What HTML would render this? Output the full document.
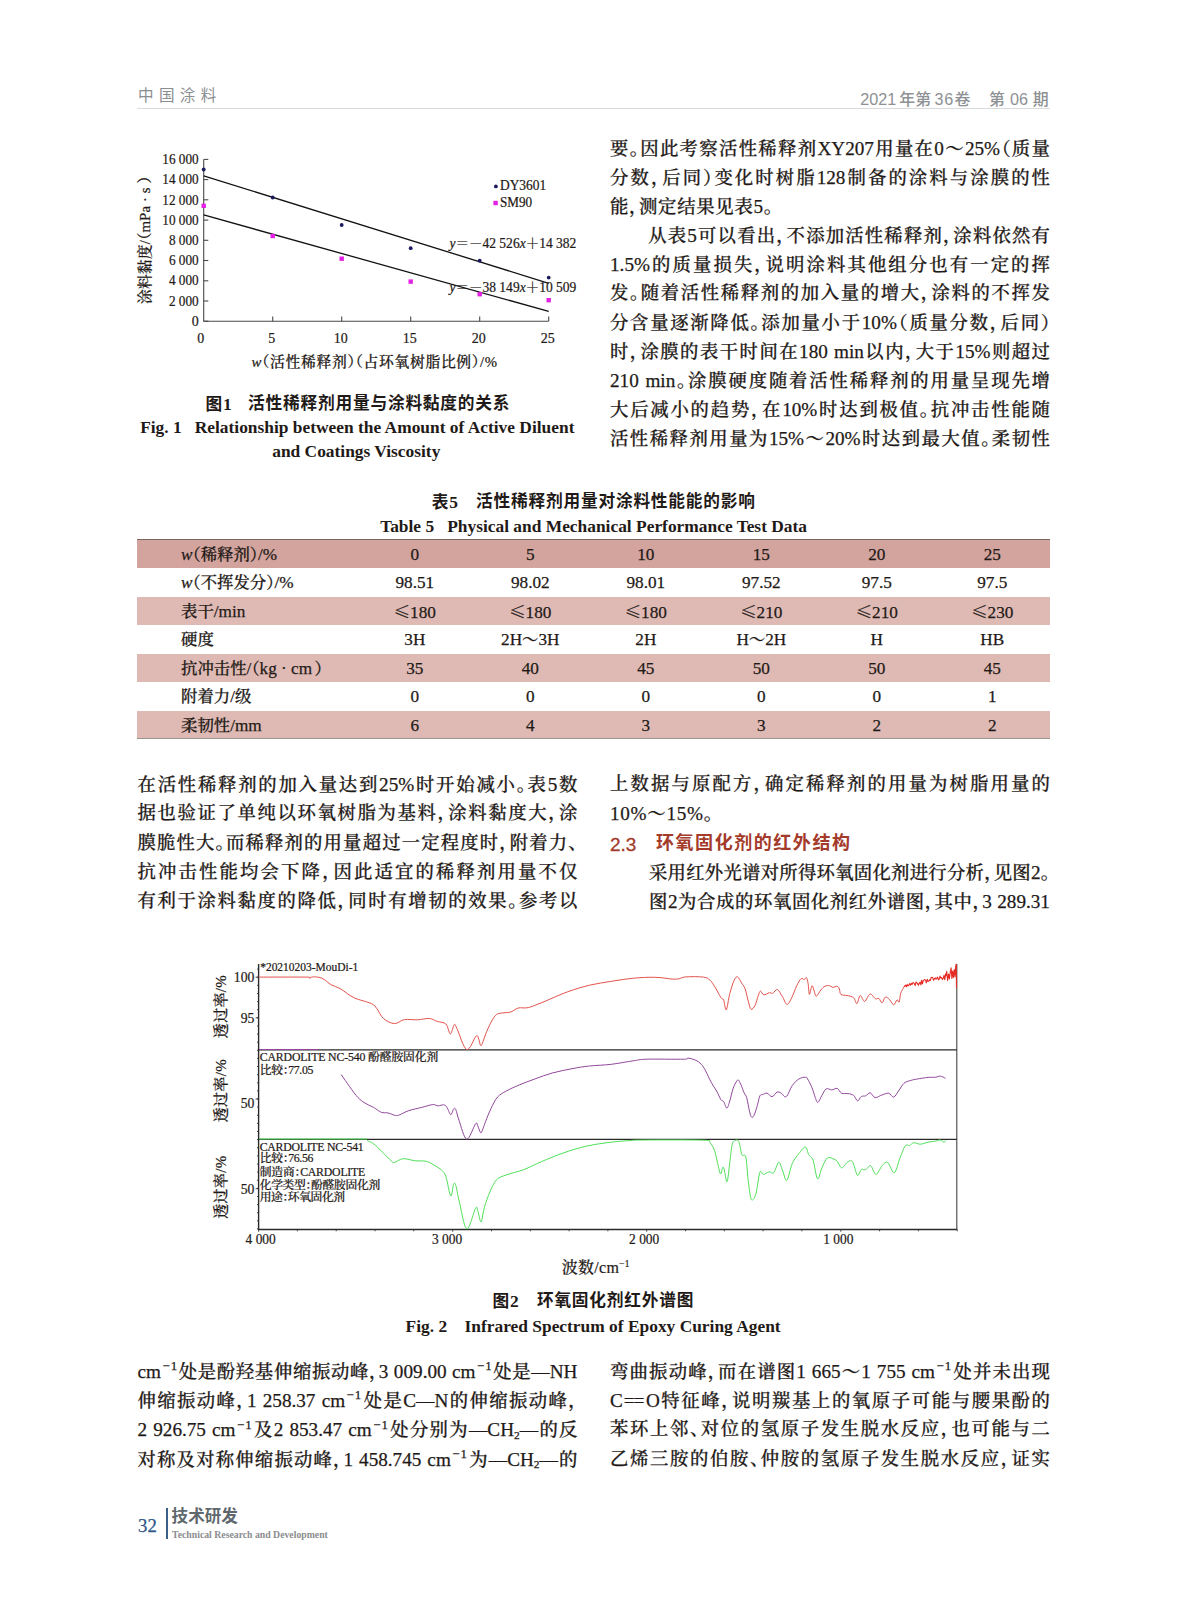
<!DOCTYPE html>
<html lang="zh-CN"><head><meta charset="utf-8"><title>中国涂料 2021年第36卷 第06期</title>
<style>
html,body{margin:0;padding:0;background:#fff;}
body{width:1187px;height:1600px;position:relative;overflow:hidden;font-family:"Liberation Serif","Noto Serif CJK SC",serif;color:#1f1a17;font-weight:500;-webkit-text-stroke-width:0.25px;}
.ln{position:absolute;white-space:nowrap;font-size:18.4px;line-height:29px;height:29px;text-align:justify;text-align-last:justify;text-justify:inter-character;}
.ln.nj{text-align:left;text-align-last:left;letter-spacing:0.7px;}
.p{font-feature-settings:"halt";}
.c{position:absolute;white-space:nowrap;text-align:center;}
sup{font-size:70%;vertical-align:baseline;position:relative;top:-0.6em;line-height:0;letter-spacing:1px;padding-left:1.5px;}
.l{font-size:19.2px;}
sub{font-size:62%;vertical-align:baseline;position:relative;top:0.25em;line-height:0;}
.tr{position:absolute;white-space:nowrap;font-size:16.4px;line-height:27.8px;height:27.8px;}
.tl{font-size:17.2px;}
.tr .p:first-of-type{padding-right:2.5px;}
.tr .p:last-of-type{padding-left:2.5px;}
.le{font-family:"Noto Serif CJK SC",serif;}
.sans{font-family:"Liberation Sans","Noto Sans CJK SC",sans-serif;}
.b{font-weight:bold;-webkit-text-stroke-width:0;}
.sans{-webkit-text-stroke-width:0;}
svg text{stroke:#1f1a17;stroke-width:0.22px;}
</style></head>
<body>
<svg width="1187" height="1600" viewBox="0 0 1187 1600" style="position:absolute;left:0;top:0;" font-family="'Liberation Serif','Noto Serif CJK SC',serif" fill="#1f1a17">
<g stroke="#4a4a4a" stroke-width="1.1" fill="none">
<path d="M203.7 159.4 V321.2 H548.7"/>
<path d="M203.7 321.2 h4.6"/>
<path d="M203.7 301.0 h4.6"/>
<path d="M203.7 280.8 h4.6"/>
<path d="M203.7 260.5 h4.6"/>
<path d="M203.7 240.3 h4.6"/>
<path d="M203.7 220.1 h4.6"/>
<path d="M203.7 199.8 h4.6"/>
<path d="M203.7 179.6 h4.6"/>
<path d="M203.7 159.4 h4.6"/>
<path d="M272.7 321.2 v-4.6"/>
<path d="M341.7 321.2 v-4.6"/>
<path d="M410.7 321.2 v-4.6"/>
<path d="M479.7 321.2 v-4.6"/>
<path d="M548.7 321.2 v-4.6"/>
</g>
<text x="198.7" y="325.9" font-size="14" text-anchor="end" >0</text>
<text x="198.7" y="305.7" font-size="14" text-anchor="end" textLength="29.8" lengthAdjust="spacingAndGlyphs">2 000</text>
<text x="198.7" y="285.4" font-size="14" text-anchor="end" textLength="29.8" lengthAdjust="spacingAndGlyphs">4 000</text>
<text x="198.7" y="265.2" font-size="14" text-anchor="end" textLength="29.8" lengthAdjust="spacingAndGlyphs">6 000</text>
<text x="198.7" y="245.0" font-size="14" text-anchor="end" textLength="29.8" lengthAdjust="spacingAndGlyphs">8 000</text>
<text x="198.7" y="224.8" font-size="14" text-anchor="end" textLength="36.4" lengthAdjust="spacingAndGlyphs">10 000</text>
<text x="198.7" y="204.5" font-size="14" text-anchor="end" textLength="36.4" lengthAdjust="spacingAndGlyphs">12 000</text>
<text x="198.7" y="184.3" font-size="14" text-anchor="end" textLength="36.4" lengthAdjust="spacingAndGlyphs">14 000</text>
<text x="198.7" y="164.1" font-size="14" text-anchor="end" textLength="36.4" lengthAdjust="spacingAndGlyphs">16 000</text>
<text x="200.7" y="343.3" font-size="14" text-anchor="middle">0</text>
<text x="271.7" y="343.3" font-size="14" text-anchor="middle">5</text>
<text x="340.7" y="343.3" font-size="14" text-anchor="middle">10</text>
<text x="409.7" y="343.3" font-size="14" text-anchor="middle">15</text>
<text x="478.7" y="343.3" font-size="14" text-anchor="middle">20</text>
<text x="547.7" y="343.3" font-size="14" text-anchor="middle">25</text>
<path d="M203.7 175.8 L548.7 283.3" stroke="#111" stroke-width="1.3"/>
<path d="M203.7 214.9 L548.7 311.4" stroke="#111" stroke-width="1.3"/>
<circle cx="203.7" cy="169.5" r="1.9" fill="#1c1a5e"/>
<circle cx="272.7" cy="197.5" r="1.9" fill="#1c1a5e"/>
<circle cx="341.7" cy="225.0" r="1.9" fill="#1c1a5e"/>
<circle cx="410.7" cy="248.2" r="1.9" fill="#1c1a5e"/>
<circle cx="479.7" cy="260.7" r="1.9" fill="#1c1a5e"/>
<circle cx="548.7" cy="277.6" r="1.9" fill="#1c1a5e"/>
<rect x="201.5" y="203.6" width="4.4" height="4.4" fill="#e320e3"/>
<rect x="270.5" y="233.8" width="4.4" height="4.4" fill="#e320e3"/>
<rect x="339.5" y="256.5" width="4.4" height="4.4" fill="#e320e3"/>
<rect x="408.5" y="279.4" width="4.4" height="4.4" fill="#e320e3"/>
<rect x="477.5" y="292.0" width="4.4" height="4.4" fill="#e320e3"/>
<rect x="546.5" y="298.0" width="4.4" height="4.4" fill="#e320e3"/>
<circle cx="495.9" cy="186.4" r="1.9" fill="#1c1a5e"/>
<rect x="493.4" y="200.8" width="4.4" height="4.4" fill="#e320e3"/>
<text x="500" y="189.8" font-size="13.6" textLength="46.2" lengthAdjust="spacingAndGlyphs">DY3601</text>
<text x="500" y="206.6" font-size="13.6" textLength="32.2" lengthAdjust="spacingAndGlyphs">SM90</text>
<text x="449.4" y="248.2" font-size="13.6" textLength="127" lengthAdjust="spacingAndGlyphs" xml:space="preserve"><tspan font-style="italic">y</tspan>＝－42 526<tspan font-style="italic">x</tspan>＋14 382</text>
<text x="449.4" y="291.5" font-size="13.6" textLength="127" lengthAdjust="spacingAndGlyphs" xml:space="preserve"><tspan font-style="italic">y</tspan>＝－38 149<tspan font-style="italic">x</tspan>＋10 509</text>
<text transform="translate(149.7,304) rotate(-90)" font-size="14.8" textLength="128" lengthAdjust="spacing" xml:space="preserve">涂料黏度/<tspan style="font-feature-settings:'halt'">（</tspan>mPa · s <tspan style="font-feature-settings:'halt'">）</tspan></text>
<text x="251.5" y="367" font-size="14.8" textLength="245.5" lengthAdjust="spacing"><tspan font-style="italic">w</tspan><tspan style="font-feature-settings:'halt'">（</tspan>活性稀释剂<tspan style="font-feature-settings:'halt'">）</tspan><tspan style="font-feature-settings:'halt'">（</tspan>占环氧树脂比例<tspan style="font-feature-settings:'halt'">）</tspan>/%</text>
<g stroke="#2a2a2a" stroke-width="1.4" fill="none">
<path d="M258.6 964.0 V1229.5 H957.3"/>
<path d="M956.8 1229.5 V964.0" stroke="#444" stroke-width="1.1"/>
<path d="M258.6 1049.9 H956.8 M258.6 1139.4 H956.8"/>
</g>
<g stroke="#333" stroke-width="0.9" fill="none">
<path d="M258.6 1229.5 v2.2"/>
<path d="M297.4 1229.5 v1.8"/>
<path d="M336.2 1229.5 v1.8"/>
<path d="M375.0 1229.5 v1.8"/>
<path d="M413.8 1229.5 v1.8"/>
<path d="M452.7 1229.5 v2.2"/>
<path d="M491.5 1229.5 v1.8"/>
<path d="M530.3 1229.5 v1.8"/>
<path d="M569.1 1229.5 v1.8"/>
<path d="M607.9 1229.5 v1.8"/>
<path d="M646.7 1229.5 v2.2"/>
<path d="M685.5 1229.5 v1.8"/>
<path d="M724.3 1229.5 v1.8"/>
<path d="M763.1 1229.5 v1.8"/>
<path d="M801.9 1229.5 v1.8"/>
<path d="M840.8 1229.5 v2.2"/>
<path d="M879.6 1229.5 v1.8"/>
<path d="M918.4 1229.5 v1.8"/>
<path d="M957.2 1229.5 v1.8"/>
<path d="M258.6 977.2 h-3"/>
<path d="M258.6 1017.8 h-3"/>
<path d="M258.6 1099.0 h-3"/>
<path d="M258.6 1188.7 h-3"/>
<path d="M258.6 969.1 h-1.6"/>
<path d="M258.6 977.2 h-1.6"/>
<path d="M258.6 985.3 h-1.6"/>
<path d="M258.6 993.5 h-1.6"/>
<path d="M258.6 1001.6 h-1.6"/>
<path d="M258.6 1009.7 h-1.6"/>
<path d="M258.6 1017.8 h-1.6"/>
<path d="M258.6 1025.9 h-1.6"/>
<path d="M258.6 1034.1 h-1.6"/>
<path d="M258.6 1042.2 h-1.6"/>
<path d="M258.6 1050.3 h-1.6"/>
<path d="M258.6 1058.4 h-1.6"/>
<path d="M258.6 1066.5 h-1.6"/>
<path d="M258.6 1074.7 h-1.6"/>
<path d="M258.6 1082.8 h-1.6"/>
<path d="M258.6 1090.9 h-1.6"/>
<path d="M258.6 1099.0 h-1.6"/>
<path d="M258.6 1107.1 h-1.6"/>
<path d="M258.6 1115.3 h-1.6"/>
<path d="M258.6 1123.4 h-1.6"/>
<path d="M258.6 1131.5 h-1.6"/>
<path d="M258.6 1139.6 h-1.6"/>
<path d="M258.6 1147.7 h-1.6"/>
<path d="M258.6 1155.9 h-1.6"/>
<path d="M258.6 1164.0 h-1.6"/>
<path d="M258.6 1172.1 h-1.6"/>
<path d="M258.6 1180.2 h-1.6"/>
<path d="M258.6 1188.3 h-1.6"/>
<path d="M258.6 1196.5 h-1.6"/>
<path d="M258.6 1204.6 h-1.6"/>
<path d="M258.6 1212.7 h-1.6"/>
<path d="M258.6 1220.8 h-1.6"/>
<path d="M258.6 1228.9 h-1.6"/>
</g>
<path d="M259.3 977.1 C267.0 977.1 297.3 977.0 305.7 977.1 C314.1 977.2 308.6 978.0 309.7 978.0 C310.8 978.0 310.8 977.0 312.3 976.9 C313.8 976.8 316.9 976.9 318.9 977.3 C320.9 977.7 322.3 978.3 324.3 979.5 C326.3 980.7 328.1 983.0 330.9 984.6 C333.6 986.2 337.0 986.8 340.8 989.0 C344.6 991.2 348.8 995.3 353.9 997.7 C359.0 1000.1 367.6 1001.8 371.4 1003.6 C375.2 1005.4 374.9 1006.2 376.9 1008.7 C378.9 1011.2 380.6 1016.0 383.5 1018.5 C386.4 1021.0 390.9 1023.4 394.4 1023.6 C397.9 1023.8 400.5 1020.2 404.3 1019.6 C408.1 1019.0 413.2 1020.0 417.4 1019.8 C421.6 1019.6 426.2 1018.2 429.5 1018.5 C432.8 1018.8 434.5 1020.5 437.2 1021.4 C439.9 1022.3 443.7 1021.9 445.9 1024.0 C448.1 1026.1 448.9 1033.8 450.3 1033.9 C451.7 1034.0 453.1 1025.6 454.2 1024.7 C455.3 1023.8 454.8 1024.2 456.9 1028.4 C459.0 1032.6 463.5 1048.3 466.7 1049.6 C469.9 1050.9 474.1 1037.8 476.1 1036.1 C478.1 1034.4 478.1 1037.8 478.8 1039.3 C479.5 1040.8 479.9 1044.6 480.5 1045.3 C481.1 1046.0 481.2 1046.0 482.2 1043.7 C483.2 1041.4 485.0 1035.5 486.6 1031.7 C488.2 1027.9 490.3 1023.6 491.9 1020.7 C493.5 1017.9 494.7 1015.9 496.4 1014.6 C498.1 1013.3 499.5 1013.4 501.9 1013.0 C504.3 1012.6 508.0 1012.8 510.7 1012.0 C513.4 1011.2 515.4 1008.7 518.3 1008.0 C521.2 1007.3 524.4 1008.5 528.2 1007.6 C532.0 1006.7 534.7 1005.4 541.3 1002.8 C547.9 1000.2 559.6 994.7 567.6 991.8 C575.6 988.9 582.2 987.0 589.5 985.2 C596.8 983.5 604.1 982.5 611.4 981.3 C618.7 980.1 626.0 978.9 633.3 978.2 C640.6 977.5 648.6 977.1 655.2 977.3 C661.8 977.4 668.8 978.9 672.8 979.1 C676.8 979.3 677.1 979.1 679.3 978.7 C681.5 978.3 681.9 977.2 685.9 976.9 C689.9 976.6 699.4 976.5 703.4 977.1 C707.4 977.7 708.0 978.4 710.0 980.2 C712.0 982.0 713.7 985.0 715.5 987.9 C717.3 990.8 719.6 995.7 721.0 997.7 C722.4 999.7 722.7 997.9 723.6 999.9 C724.5 1001.9 725.3 1010.9 726.3 1009.8 C727.3 1008.7 728.5 998.3 729.8 993.4 C731.1 988.5 732.9 983.0 734.2 980.2 C735.5 977.5 736.2 976.4 737.5 976.9 C738.8 977.4 740.6 981.5 741.9 983.5 C743.2 985.5 744.1 985.9 745.2 989.0 C746.3 992.1 747.5 998.7 748.5 1002.1 C749.5 1005.5 750.0 1008.8 751.1 1009.3 C752.2 1009.8 753.8 1007.7 755.0 1005.4 C756.2 1003.1 757.4 997.9 758.3 995.5 C759.2 993.1 759.6 991.2 760.5 991.1 C761.4 991.0 762.3 994.6 763.8 994.9 C765.3 995.2 767.8 993.0 769.3 992.7 C770.8 992.4 771.2 993.8 772.6 993.3 C774.0 992.8 775.8 989.0 777.4 989.6 C779.0 990.2 780.8 994.2 782.4 996.6 C784.0 999.0 785.3 1003.9 786.8 1004.3 C788.3 1004.7 789.6 1001.9 791.2 998.8 C792.9 995.7 795.1 989.1 796.7 985.7 C798.4 982.4 799.8 979.7 801.1 978.7 C802.4 977.7 803.4 979.7 804.3 979.5 C805.2 979.3 805.9 976.9 806.5 977.6 C807.1 978.3 807.6 980.7 808.1 983.5 C808.6 986.3 808.8 994.0 809.4 994.4 C810.0 994.8 811.2 986.2 812.0 985.7 C812.8 985.2 813.5 989.4 814.2 991.1 C814.9 992.9 815.3 996.4 816.4 996.2 C817.5 996.0 819.3 991.7 820.8 990.0 C822.2 988.3 823.6 986.8 825.1 986.1 C826.6 985.4 828.2 985.5 829.5 985.7 C830.8 985.9 831.5 987.3 832.8 987.4 C834.1 987.5 836.1 986.0 837.2 986.3 C838.3 986.6 838.8 987.6 839.4 989.0 C840.0 990.4 839.6 993.3 840.9 994.4 C842.2 995.5 845.0 995.0 847.1 995.5 C849.2 996.0 852.0 996.4 853.6 997.7 C855.2 999.1 855.8 1004.0 856.9 1003.6 C858.0 1003.2 858.9 995.9 860.2 995.5 C861.5 995.1 863.0 1001.6 864.6 1001.4 C866.2 1001.1 868.3 994.4 870.1 994.0 C871.9 993.6 874.0 998.1 875.5 998.8 C877.0 999.5 877.7 997.7 878.8 998.4 C879.9 999.1 881.0 1003.0 882.1 1002.8 C883.2 1002.6 884.1 997.6 885.4 997.1 C886.7 996.6 888.4 998.6 889.8 999.9 C891.2 1001.2 892.5 1004.9 893.7 1004.9 C894.9 1004.9 896.1 1000.4 897.0 999.9 C897.9 999.4 898.6 1003.2 899.2 1002.1 C899.8 1001.0 899.9 995.8 900.7 993.3 C901.5 990.8 903.5 987.9 904.0 986.8" stroke="#e2524c" stroke-width="1.0" fill="none" stroke-linejoin="round"/>
<path d="M904.0 986.8 L904.8 986.0 L905.6 985.2 L906.4 986.7 L907.2 984.4 L908.0 985.9 L908.8 985.1 L909.6 983.7 L910.4 985.2 L911.2 983.2 L912.0 984.5 L912.8 982.8 L913.6 982.7 L914.4 983.9 L915.2 985.4 L916.0 982.1 L916.8 982.4 L917.6 983.9 L918.4 985.2 L919.2 983.3 L920.0 982.3 L920.8 984.8 L921.6 980.2 L922.4 983.9 L923.2 980.9 L924.0 980.0 L924.8 979.6 L925.6 980.4 L926.4 982.8 L927.2 979.3 L928.0 981.2 L928.8 981.3 L929.6 979.7 L930.4 980.4 L931.2 977.5 L932.0 977.3 L932.8 977.9 L933.6 980.3 L934.4 978.7 L935.2 977.9 L936.0 979.2 L936.8 978.2 L937.6 977.1 L938.4 979.9 L939.2 979.1 L940.0 976.1 L940.8 978.0 L941.6 977.5 L942.4 979.5 L943.2 978.4 L944.0 975.3 L944.8 979.6 L945.6 973.8 L946.4 975.6 L946.7 971.4 L947.6 980.5 L948.6 974.0 L949.4 979.0 L950.3 972.0 L951.1 967.8 L951.9 978.5 L952.7 971.0 L953.4 977.5 L954.2 969.5 L955.0 977.0 L955.7 966.0 L956.2 964.2 L956.5 988.0" stroke="#e62a24" stroke-width="1.1" fill="none" stroke-linejoin="round"/>
<path d="M341.2 1074.6 C342.2 1076.0 344.8 1079.8 347.3 1083.3 C349.8 1086.8 353.4 1092.2 356.1 1095.4 C358.9 1098.6 360.9 1100.4 363.8 1102.4 C366.7 1104.4 370.7 1105.8 373.6 1107.4 C376.5 1109.1 378.9 1111.4 381.3 1112.3 C383.7 1113.2 385.5 1112.4 387.9 1112.9 C390.3 1113.4 393.5 1115.2 395.5 1115.5 C397.5 1115.8 397.7 1115.5 399.9 1114.7 C402.1 1113.9 405.0 1111.9 408.7 1110.7 C412.4 1109.5 417.8 1108.4 421.8 1107.4 C425.8 1106.4 430.1 1104.8 432.8 1104.6 C435.5 1104.3 436.4 1105.9 438.2 1105.9 C440.0 1105.9 442.2 1104.5 443.7 1104.8 C445.2 1105.0 445.8 1105.8 447.0 1107.4 C448.2 1109.1 449.6 1114.4 450.7 1114.7 C451.8 1115.0 452.8 1109.8 453.6 1109.0 C454.5 1108.2 454.9 1107.7 455.8 1109.6 C456.7 1111.5 457.3 1115.7 459.1 1120.6 C460.9 1125.5 464.0 1138.7 466.7 1139.2 C469.4 1139.8 473.7 1126.2 475.5 1123.9 C477.3 1121.6 476.9 1124.1 477.7 1125.6 C478.5 1127.0 479.7 1131.8 480.5 1132.6 C481.3 1133.4 481.6 1132.0 482.4 1130.2 C483.2 1128.4 484.1 1125.3 485.5 1121.7 C486.9 1118.1 489.0 1112.6 491.0 1108.5 C493.0 1104.4 494.9 1100.0 497.5 1097.1 C500.1 1094.2 502.7 1093.0 506.3 1091.0 C509.9 1089.0 514.6 1086.9 519.4 1084.9 C524.1 1082.9 529.3 1081.0 534.8 1079.0 C540.3 1077.0 546.1 1074.7 552.3 1073.0 C558.5 1071.3 565.8 1069.9 572.0 1068.7 C578.2 1067.5 582.9 1066.7 589.5 1066.0 C596.1 1065.3 604.1 1065.2 611.4 1064.3 C618.7 1063.4 627.4 1061.6 633.3 1060.8 C639.1 1060.0 638.1 1059.5 646.5 1059.2 C654.9 1058.9 676.8 1059.4 683.7 1059.2 C690.6 1059.0 686.1 1057.9 688.1 1058.1 C690.1 1058.3 693.6 1059.3 695.8 1060.3 C698.0 1061.3 699.7 1062.5 701.3 1064.3 C702.9 1066.0 704.0 1067.8 705.6 1070.8 C707.2 1073.8 709.3 1078.8 711.1 1082.2 C712.9 1085.6 715.0 1088.1 716.6 1091.0 C718.2 1093.9 719.8 1098.0 721.0 1099.8 C722.2 1101.5 722.6 1100.1 723.6 1101.5 C724.6 1102.9 725.9 1108.2 726.9 1108.1 C727.9 1108.0 728.8 1104.1 729.8 1100.9 C730.8 1097.7 731.9 1092.0 733.0 1088.8 C734.1 1085.6 735.4 1083.3 736.3 1081.8 C737.2 1080.3 737.5 1079.6 738.3 1080.0 C739.0 1080.4 739.8 1082.3 740.8 1084.4 C741.8 1086.5 743.1 1090.6 744.1 1092.8 C745.1 1095.0 745.8 1094.4 746.7 1097.6 C747.6 1100.8 748.8 1108.5 749.6 1111.8 C750.5 1115.1 751.0 1116.9 751.8 1117.3 C752.6 1117.7 753.6 1116.2 754.6 1114.0 C755.6 1111.8 756.8 1107.1 757.7 1104.1 C758.6 1101.1 759.0 1097.4 759.9 1095.8 C760.8 1094.2 762.2 1094.7 763.4 1094.3 C764.6 1093.9 765.6 1092.8 767.1 1093.2 C768.6 1093.6 770.5 1096.9 772.1 1096.7 C773.8 1096.5 775.5 1092.7 777.0 1092.1 C778.5 1091.5 779.8 1092.4 781.3 1093.2 C782.8 1094.0 784.4 1098.0 786.2 1096.7 C788.0 1095.4 790.2 1088.5 792.3 1085.5 C794.4 1082.5 796.7 1080.4 798.9 1079.0 C801.1 1077.6 803.9 1077.2 805.4 1077.2 C806.9 1077.2 806.5 1077.2 807.6 1079.0 C808.7 1080.8 810.7 1084.6 812.0 1087.7 C813.3 1090.8 814.3 1095.1 815.3 1097.6 C816.3 1100.0 816.8 1102.8 817.9 1102.4 C819.0 1102.0 820.5 1097.7 821.9 1095.4 C823.3 1093.1 824.6 1089.7 826.2 1088.8 C827.8 1087.9 829.9 1090.0 831.7 1089.9 C833.5 1089.8 835.6 1087.9 837.2 1088.4 C838.9 1089.0 839.8 1092.3 841.6 1093.2 C843.4 1094.1 846.1 1093.2 848.1 1093.6 C850.1 1094.0 852.0 1094.2 853.6 1095.4 C855.2 1096.6 856.3 1100.7 857.6 1100.9 C858.9 1101.1 859.9 1097.3 861.3 1096.5 C862.6 1095.7 864.2 1096.4 865.7 1095.8 C867.2 1095.2 868.5 1092.5 870.1 1092.8 C871.7 1093.1 873.1 1097.2 875.1 1097.6 C877.1 1097.9 879.8 1095.6 882.1 1094.9 C884.4 1094.2 886.8 1092.8 888.7 1093.2 C890.6 1093.6 892.1 1097.5 893.7 1097.1 C895.3 1096.7 896.8 1093.3 898.5 1091.0 C900.2 1088.7 902.0 1085.0 904.0 1083.3 C906.0 1081.5 908.4 1081.2 910.6 1080.5 C912.8 1079.8 914.3 1079.5 917.2 1079.0 C920.1 1078.5 925.0 1077.7 928.1 1077.4 C931.2 1077.1 933.8 1077.4 935.8 1077.2 C937.8 1077.0 938.6 1075.9 940.2 1076.1 C941.8 1076.3 944.7 1077.9 945.6 1078.3" stroke="#91479b" stroke-width="1.0" fill="none" stroke-linejoin="round"/>
<path d="M367.1 1140.6 C368.2 1141.1 371.1 1141.9 373.6 1143.8 C376.2 1145.7 379.5 1149.3 382.4 1152.1 C385.3 1154.9 389.2 1159.1 391.2 1160.8 C393.2 1162.5 392.4 1162.8 394.4 1162.4 C396.4 1162.1 399.7 1159.0 403.2 1158.7 C406.7 1158.4 411.4 1160.4 415.2 1160.8 C419.0 1161.2 422.9 1160.5 426.2 1161.3 C429.5 1162.1 432.4 1164.2 435.0 1165.7 C437.6 1167.2 439.7 1168.2 441.5 1170.0 C443.3 1171.8 444.4 1172.3 445.9 1176.6 C447.4 1180.9 449.4 1194.6 450.7 1195.9 C452.0 1197.2 452.8 1186.0 453.6 1184.3 C454.5 1182.5 454.9 1182.7 455.8 1185.4 C456.7 1188.1 457.3 1193.5 459.1 1200.7 C460.9 1207.9 464.0 1227.5 466.7 1228.8 C469.4 1230.1 473.7 1211.4 475.5 1208.4 C477.3 1205.4 476.9 1208.4 477.7 1210.6 C478.5 1212.8 479.8 1220.0 480.5 1221.5 C481.2 1223.0 481.4 1221.7 482.0 1219.3 C482.6 1216.9 483.1 1211.8 484.4 1207.3 C485.7 1202.8 487.9 1196.6 489.9 1192.0 C491.9 1187.4 493.7 1182.8 496.4 1179.9 C499.1 1177.1 501.7 1176.6 506.3 1174.9 C510.9 1173.2 518.0 1171.8 523.8 1169.6 C529.6 1167.4 534.7 1164.5 541.3 1161.7 C547.9 1158.9 555.9 1155.5 563.2 1153.0 C570.5 1150.5 577.8 1148.1 585.1 1146.4 C592.4 1144.7 599.7 1143.7 607.0 1142.7 C614.3 1141.7 622.4 1141.0 629.0 1140.6 C635.6 1140.1 634.1 1140.1 646.5 1140.0 C658.9 1139.9 692.8 1139.8 703.4 1140.2 C714.0 1140.7 708.2 1141.0 710.0 1142.7 C711.8 1144.4 713.1 1146.8 714.4 1150.3 C715.7 1153.8 716.7 1159.5 717.7 1163.5 C718.7 1167.5 719.7 1173.3 720.5 1174.0 C721.3 1174.7 722.1 1168.1 722.7 1167.4 C723.3 1166.7 723.6 1167.6 724.3 1170.0 C725.0 1172.4 726.2 1183.0 727.1 1181.7 C728.0 1180.5 729.0 1168.5 729.8 1162.5 C730.6 1156.5 731.2 1149.5 731.9 1146.0 C732.6 1142.5 732.7 1142.1 733.8 1141.3 C734.9 1140.5 737.2 1138.9 738.6 1141.1 C740.0 1143.3 740.7 1152.1 741.9 1154.7 C743.1 1157.3 744.8 1152.9 745.8 1156.9 C746.8 1160.9 747.2 1172.0 748.0 1178.8 C748.8 1185.5 749.9 1193.9 750.7 1197.4 C751.5 1200.9 752.0 1200.3 752.9 1199.6 C753.8 1198.9 754.9 1197.6 756.1 1193.0 C757.3 1188.4 758.7 1175.3 759.9 1172.2 C761.1 1169.1 761.8 1174.5 763.4 1174.4 C765.0 1174.3 767.6 1172.1 769.3 1171.8 C771.0 1171.5 772.1 1174.3 773.7 1172.7 C775.3 1171.1 777.2 1162.9 778.7 1162.4 C780.2 1162.0 781.0 1167.0 782.4 1170.0 C783.8 1173.0 785.1 1181.4 786.8 1180.3 C788.4 1179.2 790.3 1168.0 792.3 1163.5 C794.3 1159.0 796.7 1156.3 798.9 1153.6 C801.1 1150.8 803.8 1146.8 805.4 1147.0 C807.0 1147.2 807.4 1152.5 808.7 1154.7 C810.0 1156.9 811.6 1156.2 813.1 1160.2 C814.6 1164.2 816.0 1177.5 817.5 1178.8 C819.0 1180.1 820.3 1171.4 821.9 1167.9 C823.5 1164.4 825.5 1159.5 827.3 1158.0 C829.1 1156.5 831.1 1158.2 832.8 1158.7 C834.4 1159.2 835.7 1159.8 837.2 1161.3 C838.7 1162.8 840.0 1167.7 841.6 1167.9 C843.2 1168.1 845.5 1163.6 847.1 1162.4 C848.7 1161.2 850.2 1160.2 851.4 1160.8 C852.6 1161.3 853.1 1163.2 854.1 1165.7 C855.1 1168.2 856.4 1174.8 857.6 1175.5 C858.8 1176.2 859.9 1170.6 861.3 1169.6 C862.6 1168.6 864.1 1170.2 865.7 1169.6 C867.3 1168.9 869.0 1164.9 870.7 1165.7 C872.4 1166.5 874.1 1174.4 876.0 1174.4 C877.9 1174.4 880.2 1167.7 882.1 1165.7 C884.0 1163.7 885.6 1161.2 887.6 1162.4 C889.6 1163.6 892.2 1173.2 894.2 1172.7 C896.2 1172.2 897.8 1163.5 899.6 1159.1 C901.4 1154.6 903.5 1148.3 905.1 1146.0 C906.8 1143.7 908.0 1146.0 909.5 1145.5 C911.0 1145.0 912.1 1142.9 913.9 1142.7 C915.7 1142.5 918.0 1144.3 920.4 1144.2 C922.8 1144.1 925.5 1142.7 928.1 1142.2 C930.7 1141.7 933.8 1141.5 935.8 1141.1 C937.8 1140.7 938.9 1139.8 940.2 1140.0 C941.6 1140.2 943.0 1142.1 943.9 1142.2 C944.8 1142.3 945.3 1140.8 945.6 1140.5" stroke="#4fe058" stroke-width="1.0" fill="none" stroke-linejoin="round"/>
<path d="M259.3 1049.5 H318" stroke="#91479b" stroke-width="1.0"/>
<path d="M259.3 1139.0 H367" stroke="#4fe058" stroke-width="1.0"/>
<text x="254.4" y="982.2" font-size="13.7" text-anchor="end">100</text>
<text x="254.4" y="1022.7" font-size="13.7" text-anchor="end">95</text>
<text x="254.4" y="1107.5" font-size="13.7" text-anchor="end">50</text>
<text x="254.4" y="1194.2" font-size="13.7" text-anchor="end">50</text>
<text x="245.6" y="1243.7" font-size="13.7" textLength="30.2" lengthAdjust="spacingAndGlyphs">4 000</text>
<text x="432.0" y="1243.7" font-size="13.7" textLength="30.2" lengthAdjust="spacingAndGlyphs">3 000</text>
<text x="629.1" y="1243.7" font-size="13.7" textLength="30.2" lengthAdjust="spacingAndGlyphs">2 000</text>
<text x="823.2" y="1243.7" font-size="13.7" textLength="30.2" lengthAdjust="spacingAndGlyphs">1 000</text>
<text transform="translate(225.5,1006.7) rotate(-90)" font-size="15" text-anchor="middle" textLength="63">透过率/%</text>
<text transform="translate(225.5,1090.8) rotate(-90)" font-size="15" text-anchor="middle" textLength="63">透过率/%</text>
<text transform="translate(225.5,1187.3) rotate(-90)" font-size="15" text-anchor="middle" textLength="63">透过率/%</text>
<text x="260.2" y="970.9" font-size="11.5" textLength="98">*20210203-MouDi-1</text>
<text x="259.7" y="1061.4" font-size="11.8" textLength="178.5">CARDOLITE NC-540 酚醛胺固化剂</text>
<text x="259.7" y="1073.5" font-size="11.8" textLength="53.7">比较<tspan style="font-feature-settings:'halt'">：</tspan>77.05</text>
<text x="259.7" y="1150.8" font-size="11.8" textLength="104">CARDOLITE NC-541</text>
<text x="259.7" y="1162.4" font-size="11.8" textLength="53.7">比较<tspan style="font-feature-settings:'halt'">：</tspan>76.56</text>
<text x="259.7" y="1176.2" font-size="11.8" textLength="105.6">制造商<tspan style="font-feature-settings:'halt'">：</tspan>CARDOLITE</text>
<text x="259.7" y="1189.3" font-size="11.8" textLength="120.5">化学类型<tspan style="font-feature-settings:'halt'">：</tspan>酚醛胺固化剂</text>
<text x="259.7" y="1201.2" font-size="11.8" textLength="85.4">用途<tspan style="font-feature-settings:'halt'">：</tspan>环氧固化剂</text>
<text x="561.7" y="1273" font-size="16" textLength="67.8" lengthAdjust="spacing">波数/cm<tspan font-size="9.5" dy="-6.5">−1</tspan></text>
</svg>
<div class="sans" style="position:absolute;left:138px;top:85.3px;font-size:15.6px;line-height:22px;letter-spacing:5.3px;color:#8b8e91;font-weight:400;">中国涂料</div>
<div class="sans" style="position:absolute;right:138.4px;top:88px;font-size:16.2px;line-height:22px;color:#8e9194;white-space:nowrap;font-weight:500;"><span>2021</span><span style="margin-left:3.1px;font-size:15.9px;">年第</span><span style="margin-left:3.4px;letter-spacing:0.9px;">36</span><span style="margin-left:0.3px;font-size:15.9px;">卷</span><span style="margin-left:18.6px;font-size:15.9px;">第</span><span style="margin-left:5.2px;">06</span><span style="margin-left:4.6px;font-size:15.9px;">期</span></div>
<div style="position:absolute;left:137px;top:107.5px;width:913px;height:1.3px;background:#d9dadb;"></div>
<div class="ln" style="left:610.0px;top:134.2px;width:440.0px;">要<span class="p">。</span>因此考察活性稀释剂<span class="l">XY207</span>用量在<span class="l">0</span>～<span class="l">25%</span><span class="p">（</span>质量</div>
<div class="ln" style="left:610.0px;top:163.2px;width:440.0px;">分数<span class="p">，</span>后同<span class="p">）</span>变化时树脂<span class="l">128</span>制备的涂料与涂膜的性</div>
<div class="ln nj" style="left:610.0px;top:192.1px;width:440.0px;">能<span class="p">，</span>测定结果见表<span class="l">5</span><span class="p">。</span></div>
<div class="ln" style="left:648.2px;top:221.1px;width:401.8px;">从表<span class="l">5</span>可以看出<span class="p">，</span>不添加活性稀释剂<span class="p">，</span>涂料依然有</div>
<div class="ln" style="left:610.0px;top:250.1px;width:440.0px;"><span class="l">1.5%</span>的质量损失<span class="p">，</span>说明涂料其他组分也有一定的挥</div>
<div class="ln" style="left:610.0px;top:279.0px;width:440.0px;">发<span class="p">。</span>随着活性稀释剂的加入量的增大<span class="p">，</span>涂料的不挥发</div>
<div class="ln" style="left:610.0px;top:308.0px;width:440.0px;">分含量逐渐降低<span class="p">。</span>添加量小于<span class="l">10%</span><span class="p">（</span>质量分数<span class="p">，</span>后同<span class="p">）</span></div>
<div class="ln" style="left:610.0px;top:337.0px;width:440.0px;">时<span class="p">，</span>涂膜的表干时间在<span class="l">180 min</span>以内<span class="p">，</span>大于<span class="l">15%</span>则超过</div>
<div class="ln" style="left:610.0px;top:366.0px;width:440.0px;"><span class="l">210 min</span><span class="p">。</span>涂膜硬度随着活性稀释剂的用量呈现先增</div>
<div class="ln" style="left:610.0px;top:394.9px;width:440.0px;">大后减小的趋势<span class="p">，</span>在<span class="l">10%</span>时达到极值<span class="p">。</span>抗冲击性能随</div>
<div class="ln" style="left:610.0px;top:423.9px;width:440.0px;">活性稀释剂用量为<span class="l">15%</span>～<span class="l">20%</span>时达到最大值<span class="p">。</span>柔韧性</div>
<div class="ln" style="left:137.5px;top:770.1px;width:440.0px;">在活性稀释剂的加入量达到<span class="l">25%</span>时开始减小<span class="p">。</span>表<span class="l">5</span>数</div>
<div class="ln" style="left:137.5px;top:799.3px;width:440.0px;">据也验证了单纯以环氧树脂为基料<span class="p">，</span>涂料黏度大<span class="p">，</span>涂</div>
<div class="ln" style="left:137.5px;top:828.5px;width:440.0px;">膜脆性大<span class="p">。</span>而稀释剂的用量超过一定程度时<span class="p">，</span>附着力<span class="p">、</span></div>
<div class="ln" style="left:137.5px;top:857.7px;width:440.0px;">抗冲击性能均会下降<span class="p">，</span>因此适宜的稀释剂用量不仅</div>
<div class="ln" style="left:137.5px;top:886.9px;width:440.0px;">有利于涂料黏度的降低<span class="p">，</span>同时有增韧的效果<span class="p">。</span>参考以</div>
<div class="ln" style="left:610.0px;top:770.1px;width:440.0px;">上数据与原配方<span class="p">，</span>确定稀释剂的用量为树脂用量的</div>
<div class="ln nj" style="left:610.0px;top:799.3px;width:440.0px;"><span class="l">10%</span>～<span class="l">15%</span><span class="p">。</span></div>
<div class="sans" style="position:absolute;left:610px;top:829.7px;font-size:19px;line-height:29px;color:#a33a2a;white-space:pre;font-weight:400;-webkit-text-stroke-width:0.3px;">2.3</div>
<div class="sans b" style="position:absolute;left:656px;top:828.9px;font-size:18px;line-height:29px;color:#a33a2a;white-space:pre;letter-spacing:1.55px;">环氧固化剂的红外结构</div>
<div class="ln" style="left:648.9px;top:857.7px;width:401.1px;">采用红外光谱对所得环氧固化剂进行分析<span class="p">，</span>见图<span class="l">2</span><span class="p">。</span></div>
<div class="ln" style="left:648.9px;top:886.9px;width:401.1px;">图<span class="l">2</span>为合成的环氧固化剂红外谱图<span class="p">，</span>其中<span class="p">，</span><span class="l">3 289.31</span></div>
<div class="ln" style="left:137.5px;top:1357.1px;width:440.0px;"><span class="l">cm</span><sup>−1</sup>处是酚羟基伸缩振动峰<span class="p">，</span><span class="l">3 009.00 cm</span><sup>−1</sup>处是—<span class="l">NH</span></div>
<div class="ln" style="left:137.5px;top:1386.2px;width:440.0px;">伸缩振动峰<span class="p">，</span><span class="l">1 258.37 cm</span><sup>−1</sup>处是<span class="l">C</span>—<span class="l">N</span>的伸缩振动峰<span class="p">，</span></div>
<div class="ln" style="left:137.5px;top:1415.4px;width:440.0px;"><span class="l">2 926.75 cm</span><sup>−1</sup>及<span class="l">2 853.47 cm</span><sup>−1</sup>处分别为—<span class="l">CH</span><sub>2</sub>—的反</div>
<div class="ln" style="left:137.5px;top:1444.5px;width:440.0px;">对称及对称伸缩振动峰<span class="p">，</span><span class="l">1 458.745 cm</span><sup>−1</sup>为—<span class="l">CH</span><sub>2</sub>—的</div>
<div class="ln" style="left:610.0px;top:1357.1px;width:440.0px;">弯曲振动峰<span class="p">，</span>而在谱图<span class="l">1 665</span>～<span class="l">1 755 cm</span><sup>−1</sup>处并未出现</div>
<div class="ln" style="left:610.0px;top:1386.2px;width:440.0px;"><span class="l">C</span><span class="l" style="letter-spacing:-0.9px;margin:0 2.4px 0 0.9px;">==</span><span class="l">O</span>特征峰<span class="p">，</span>说明羰基上的氧原子可能与腰果酚的</div>
<div class="ln" style="left:610.0px;top:1415.4px;width:440.0px;">苯环上邻<span class="p">、</span>对位的氢原子发生脱水反应<span class="p">，</span>也可能与二</div>
<div class="ln" style="left:610.0px;top:1444.5px;width:440.0px;">乙烯三胺的伯胺<span class="p">、</span>仲胺的氢原子发生脱水反应<span class="p">，</span>证实</div>
<div class="sans b" style="position:absolute;white-space:nowrap;left:205.4px;top:391.8px;font-size:16.7px;line-height:24px;letter-spacing:0.8px;">图<span style="font-family:'Liberation Serif',serif;font-size:17.4px;letter-spacing:0;">1</span></div>
<div class="sans b" style="position:absolute;white-space:nowrap;left:248.0px;top:391.8px;font-size:16.7px;line-height:24px;letter-spacing:0.8px;">活性稀释剂用量与涂料黏度的关系</div>
<div class="c b" style="left:57.3px;top:414.5px;width:600px;font-size:17.4px;line-height:24px;letter-spacing:0.00px;color:#1f1a17; white-space:pre;">Fig. 1   Relationship between the Amount of Active Diluent</div>
<div class="c b" style="left:56.3px;top:438.8px;width:600px;font-size:17.4px;line-height:24px;letter-spacing:0.00px;color:#1f1a17; white-space:pre;">and Coatings Viscosity</div>
<div class="sans b" style="position:absolute;white-space:nowrap;left:431.8px;top:489.9px;font-size:16.7px;line-height:24px;letter-spacing:0.8px;">表<span style="font-family:'Liberation Serif',serif;font-size:17.4px;letter-spacing:0;">5</span></div>
<div class="sans b" style="position:absolute;white-space:nowrap;left:476.0px;top:489.9px;font-size:16.7px;line-height:24px;letter-spacing:0.8px;">活性稀释剂用量对涂料性能能的影响</div>
<div class="c b" style="left:293.6px;top:513.8px;width:600px;font-size:17.4px;line-height:24px;letter-spacing:0.00px;color:#1f1a17; white-space:pre;">Table 5   Physical and Mechanical Performance Test Data</div>
<div class="sans b" style="position:absolute;white-space:nowrap;left:492.4px;top:1289.2px;font-size:16.7px;line-height:24px;letter-spacing:0.8px;">图<span style="font-family:'Liberation Serif',serif;font-size:17.4px;letter-spacing:0;">2</span></div>
<div class="sans b" style="position:absolute;white-space:nowrap;left:536.9px;top:1289.2px;font-size:16.7px;line-height:24px;letter-spacing:0.8px;">环氧固化剂红外谱图</div>
<div class="c b" style="left:293.1px;top:1313.8px;width:600px;font-size:17.4px;line-height:24px;letter-spacing:0.00px;color:#1f1a17; white-space:pre;">Fig. 2    Infrared Spectrum of Epoxy Curing Agent</div>
<div style="position:absolute;left:137px;top:540.0px;width:913px;height:27.8px;background:#d3a49e;"></div>
<div class="tr" style="left:181px;top:540.6px;"><span class="tl"><i>w</i></span><span class="p">（</span>稀释剂<span class="p">）</span><span class="tl">/%</span></div>
<div class="tr c" style="left:364.8px;top:540.6px;width:100px;"><span class="tl">0</span></div>
<div class="tr c" style="left:480.3px;top:540.6px;width:100px;"><span class="tl">5</span></div>
<div class="tr c" style="left:595.8px;top:540.6px;width:100px;"><span class="tl">10</span></div>
<div class="tr c" style="left:711.3px;top:540.6px;width:100px;"><span class="tl">15</span></div>
<div class="tr c" style="left:826.8px;top:540.6px;width:100px;"><span class="tl">20</span></div>
<div class="tr c" style="left:942.3px;top:540.6px;width:100px;"><span class="tl">25</span></div>
<div class="tr" style="left:181px;top:569.1px;"><span class="tl"><i>w</i></span><span class="p">（</span>不挥发分<span class="p">）</span><span class="tl">/%</span></div>
<div class="tr c" style="left:364.8px;top:569.1px;width:100px;"><span class="tl">98.51</span></div>
<div class="tr c" style="left:480.3px;top:569.1px;width:100px;"><span class="tl">98.02</span></div>
<div class="tr c" style="left:595.8px;top:569.1px;width:100px;"><span class="tl">98.01</span></div>
<div class="tr c" style="left:711.3px;top:569.1px;width:100px;"><span class="tl">97.52</span></div>
<div class="tr c" style="left:826.8px;top:569.1px;width:100px;"><span class="tl">97.5</span></div>
<div class="tr c" style="left:942.3px;top:569.1px;width:100px;"><span class="tl">97.5</span></div>
<div style="position:absolute;left:137px;top:597.0px;width:913px;height:27.8px;background:#dfbab5;"></div>
<div class="tr" style="left:181px;top:597.6px;">表干<span class="tl">/min</span></div>
<div class="tr c" style="left:364.8px;top:597.6px;width:100px;"><span class="le">≤</span><span class="tl">180</span></div>
<div class="tr c" style="left:480.3px;top:597.6px;width:100px;"><span class="le">≤</span><span class="tl">180</span></div>
<div class="tr c" style="left:595.8px;top:597.6px;width:100px;"><span class="le">≤</span><span class="tl">180</span></div>
<div class="tr c" style="left:711.3px;top:597.6px;width:100px;"><span class="le">≤</span><span class="tl">210</span></div>
<div class="tr c" style="left:826.8px;top:597.6px;width:100px;"><span class="le">≤</span><span class="tl">210</span></div>
<div class="tr c" style="left:942.3px;top:597.6px;width:100px;"><span class="le">≤</span><span class="tl">230</span></div>
<div class="tr" style="left:181px;top:626.1px;">硬度</div>
<div class="tr c" style="left:364.8px;top:626.1px;width:100px;"><span class="tl">3H</span></div>
<div class="tr c" style="left:480.3px;top:626.1px;width:100px;"><span class="tl">2H</span>～<span class="tl">3H</span></div>
<div class="tr c" style="left:595.8px;top:626.1px;width:100px;"><span class="tl">2H</span></div>
<div class="tr c" style="left:711.3px;top:626.1px;width:100px;"><span class="tl">H</span>～<span class="tl">2H</span></div>
<div class="tr c" style="left:826.8px;top:626.1px;width:100px;"><span class="tl">H</span></div>
<div class="tr c" style="left:942.3px;top:626.1px;width:100px;"><span class="tl">HB</span></div>
<div style="position:absolute;left:137px;top:654.0px;width:913px;height:27.8px;background:#dfbab5;"></div>
<div class="tr" style="left:181px;top:654.6px;">抗冲击性<span class="tl">/</span><span class="p">（</span><span class="tl">kg · cm</span><span class="p">）</span></div>
<div class="tr c" style="left:364.8px;top:654.6px;width:100px;"><span class="tl">35</span></div>
<div class="tr c" style="left:480.3px;top:654.6px;width:100px;"><span class="tl">40</span></div>
<div class="tr c" style="left:595.8px;top:654.6px;width:100px;"><span class="tl">45</span></div>
<div class="tr c" style="left:711.3px;top:654.6px;width:100px;"><span class="tl">50</span></div>
<div class="tr c" style="left:826.8px;top:654.6px;width:100px;"><span class="tl">50</span></div>
<div class="tr c" style="left:942.3px;top:654.6px;width:100px;"><span class="tl">45</span></div>
<div class="tr" style="left:181px;top:683.1px;">附着力<span class="tl">/</span>级</div>
<div class="tr c" style="left:364.8px;top:683.1px;width:100px;"><span class="tl">0</span></div>
<div class="tr c" style="left:480.3px;top:683.1px;width:100px;"><span class="tl">0</span></div>
<div class="tr c" style="left:595.8px;top:683.1px;width:100px;"><span class="tl">0</span></div>
<div class="tr c" style="left:711.3px;top:683.1px;width:100px;"><span class="tl">0</span></div>
<div class="tr c" style="left:826.8px;top:683.1px;width:100px;"><span class="tl">0</span></div>
<div class="tr c" style="left:942.3px;top:683.1px;width:100px;"><span class="tl">1</span></div>
<div style="position:absolute;left:137px;top:711.0px;width:913px;height:27.6px;background:#dfbab5;"></div>
<div class="tr" style="left:181px;top:711.6px;">柔韧性<span class="tl">/mm</span></div>
<div class="tr c" style="left:364.8px;top:711.6px;width:100px;"><span class="tl">6</span></div>
<div class="tr c" style="left:480.3px;top:711.6px;width:100px;"><span class="tl">4</span></div>
<div class="tr c" style="left:595.8px;top:711.6px;width:100px;"><span class="tl">3</span></div>
<div class="tr c" style="left:711.3px;top:711.6px;width:100px;"><span class="tl">3</span></div>
<div class="tr c" style="left:826.8px;top:711.6px;width:100px;"><span class="tl">2</span></div>
<div class="tr c" style="left:942.3px;top:711.6px;width:100px;"><span class="tl">2</span></div>
<div style="position:absolute;left:137px;top:538.7px;width:913px;height:1.3px;background:#7d6662;"></div>
<div style="position:absolute;left:137px;top:737.8px;width:913px;height:1.3px;background:#9a9492;"></div>
<div style="position:absolute;left:138px;top:1512.9px;font-size:18.8px;line-height:26px;color:#2f5888;">32</div>
<div style="position:absolute;left:166.4px;top:1508.3px;width:2.1px;height:30.3px;background:#3a5f8a;"></div>
<div class="sans b" style="position:absolute;left:171.6px;top:1505px;font-size:16.6px;line-height:24px;color:#5f686c;">技术研发</div>
<div class="b" style="position:absolute;left:172.1px;top:1528px;font-size:9.75px;line-height:13px;color:#8b8d8f;white-space:nowrap;">Technical Research and Development</div>
</body></html>
